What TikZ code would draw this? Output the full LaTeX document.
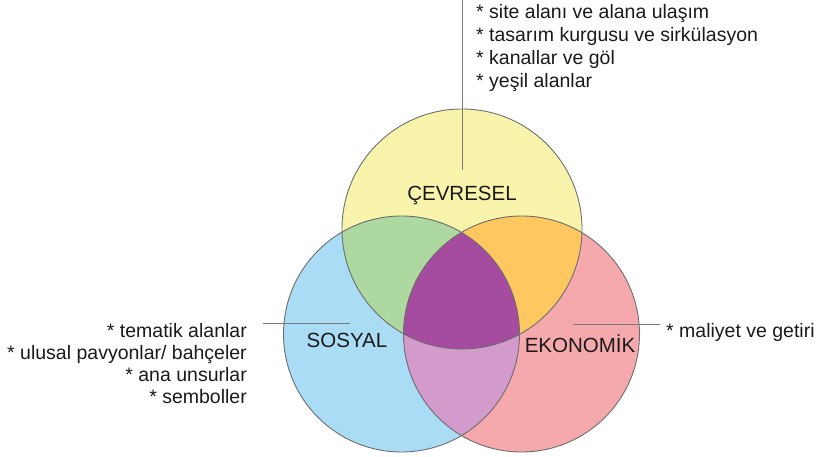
\documentclass[tikz,border=0pt]{standalone}
\usepackage{fontspec}
\setmainfont{Liberation Sans}
\usetikzlibrary{positioning}

\definecolor{cevYellow}{HTML}{F8F4AC}
\definecolor{sosBlue}{HTML}{ABDCF5}
\definecolor{ekoPink}{HTML}{F5A9AC}
\definecolor{mixGreen}{HTML}{ADD8A0}
\definecolor{mixOrange}{HTML}{FEC760}
\definecolor{mixLilac}{HTML}{D39BCB}
\definecolor{mixPurple}{HTML}{A54BA0}
\definecolor{ringGray}{HTML}{6E6E6E}
\definecolor{tickGray}{HTML}{7A7A7A}
\definecolor{textBlack}{HTML}{1A1A1A}

\tikzset{
	ring/.style={circle, inner sep=0pt, minimum size=236pt},
	ringline/.style={draw=ringGray, line width=0.9pt},
	title/.style={font=\fontsize{20.5}{24}\selectfont, text=textBlack, inner sep=0pt},
	item/.style={font=\fontsize{19.5}{23}\selectfont, text=textBlack, inner sep=0pt},
	tick/.style={draw=tickGray, line width=0.9pt}
}

\begin{document}
\begin{tikzpicture}[x=1pt,y=-1pt]
		\useasboundingbox (0,0) rectangle (825,457);

		% the three sets
		\node[ring, fill=cevYellow, minimum size=240pt] (cev) at (462,229) {};
		\node[ring, fill=sosBlue] (sos) at (401.5,334) {};
		\node[ring, fill=ekoPink] (eko) at (521.5,334) {};

		% overlaps
		\begin{scope}
			\clip (cev.center) circle (120pt);
			\fill[mixGreen] (sos.center) circle (118pt);
			\fill[mixOrange] (eko.center) circle (118pt);
		\end{scope}
		\begin{scope}
			\clip (sos.center) circle (118pt);
			\fill[mixLilac] (eko.center) circle (118pt);
			\clip (eko.center) circle (118pt);
			\fill[mixPurple] (cev.center) circle (120pt);
		\end{scope}

		\draw[ringline] (cev.center) circle (120pt);
		\draw[ringline] (sos.center) circle (118pt);
		\draw[ringline] (eko.center) circle (118pt);

		% labels
		\node[title, anchor=base] (cevLbl) at (462,201) {ÇEVRESEL};
		\node[title, anchor=base] (sosLbl) at (347,347) {SOSYAL};
		\node[title, anchor=base] (ekoLbl) at (580,352) {EKONOMİK};

		% leader lines
		\coordinate (cevTop) at (462,0);
		\coordinate (cevEnd) at (462,170);
		\coordinate (sosOut) at (263,323);
		\coordinate (sosEnd) at (350,323);
		\coordinate (ekoEnd) at (573,324);
		\coordinate (ekoOut) at (660,324);
		\draw[tick] (cevTop) -- (cevEnd);
		\draw[tick] (sosOut) -- (sosEnd);
		\draw[tick] (ekoEnd) -- (ekoOut);

		% lists
		\node[item, anchor=base west] (cev1) at (476,18.5) {* site alanı ve alana ulaşım};
		\node[item, anchor=base west] (cev2) at (476,41.5) {* tasarım kurgusu ve sirkülasyon};
		\node[item, anchor=base west] (cev3) at (476,64.5) {* kanallar ve göl};
		\node[item, anchor=base west] (cev4) at (476,87.5) {* yeşil alanlar};

		\node[item, anchor=base east] (sos1) at (247,337) {* tematik alanlar};
		\node[item, anchor=base east] (sos2) at (247,359) {* ulusal pavyonlar/ bahçeler};
		\node[item, anchor=base east] (sos3) at (247,381) {* ana unsurlar};
		\node[item, anchor=base east] (sos4) at (247,403) {* semboller};

		\node[item, anchor=base west] (eko1) at (666,337) {* maliyet ve getiri};
	\end{tikzpicture}
\end{document}
